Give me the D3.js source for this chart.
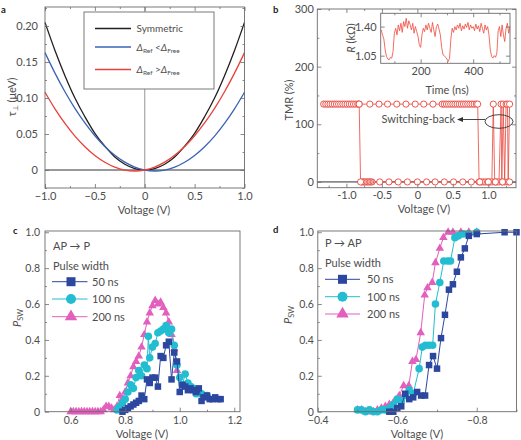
<!DOCTYPE html>
<html><head><meta charset="utf-8">
<script src="https://cdn.jsdelivr.net/npm/d3@7"></script>
<style>
body{margin:0;background:#fff}
svg{font-family:Lato,"Open Sans",sans-serif}
</style></head><body>
<svg id="fig" width="521" height="440"></svg>
<script>
// ---------- DATA ----------
// panel a : spin-transfer torque curves
const aVolt = [-1.0,-0.9,-0.8,-0.7,-0.6,-0.5,-0.4,-0.3,-0.2,-0.1,0,0.1,0.2,0.3,0.4,0.5,0.6,0.7,0.8,0.9,1.0];
const aSym  = [0.205,0.166,0.131,0.100,0.074,0.051,0.033,0.018,0.008,0.002,0,0.002,0.008,0.018,0.033,0.051,0.074,0.100,0.131,0.166,0.205];
const aBlue = [0.163,0.1345,0.1087,0.0856,0.0653,0.0476,0.0327,0.0204,0.0109,0.0041,0,-0.0014,-0.0001,0.0039,0.0107,0.0201,0.0323,0.0471,0.0647,0.085,0.108];
const aRed  = [0.108,0.085,0.0647,0.0471,0.0323,0.0201,0.0107,0.0039,-0.0001,-0.0014,0,0.0041,0.0109,0.0204,0.0327,0.0476,0.0653,0.0856,0.1087,0.1345,0.163];
const aXTicks = [-1,-0.5,0,0.5,1], aYTicks = [0,0.05,0.10,0.15,0.20];
const aLegend = ["Symmetric","ref<free","ref>free"];

// panel b : TMR loop
const bUpV = [-1.32,-1.29,-1.26,-1.23,-1.20,-1.17,-1.14,-1.11,-1.08,-1.05,-1.02,-0.99,-0.96,-0.93,-0.90,-0.87,-0.84,-0.82,
  -0.67,-0.54,-0.42,-0.29,-0.16,-0.03,0.09,0.22,0.35,
  0.38,0.41,0.44,0.47,0.50,0.53,0.56,0.59,0.62,0.65,0.68,0.71,0.74,0.77,0.80,0.83,0.85,
  0.87,0.90,0.93,0.96,0.99,1.02,1.05,1.07,1.09,1.12,1.15,1.18,1.19,1.21,1.23,1.25,1.27,1.28,1.30];
const bUpT = [135,135,135,135,135,135,135,135,135,135,135,135,135,135,135,135,135,135,
  135,135,135,135,135,135,135,135,135,
  135,135,135,135,135,135,135,135,135,135,135,135,135,135,135,135,135,
  0,0,0,0,0,0,0,135,0,0,0,135,0,135,0,135,135,0,135];
const bDnV = [1.30,1.20,1.10,1.00,0.88,0.76,0.64,0.51,0.38,0.25,0.13,0.00,-0.14,-0.27,-0.40,-0.53,
  -0.64,-0.66,-0.68,-0.70,-0.72,-0.74,-0.76,-0.78,-0.80,-0.82];
const bDnT = [0,0,0,0,0,0,0,0,0,0,0,0,0,0,0,0,0,0,0,0,0,0,0,0,0,135];
const bXTicks = [-1,-0.5,0,0.5,1], bYTicks = [0,100,200,300];
// inset : resistance vs time
const inT = d3.range(50,541,5);
const inR = [1.36,1.30,1.25,1.12,1.04,1.01,1.00,1.03,1.02,1.10,1.32,1.38,1.30,1.42,1.35,1.44,1.33,1.46,1.40,1.50,
  1.38,1.47,1.42,1.36,1.44,1.32,1.40,1.34,1.28,1.18,1.15,1.30,1.38,1.34,1.42,1.36,1.44,1.38,1.33,1.45,
  1.36,1.28,1.40,1.43,1.37,1.30,1.15,1.06,1.05,1.03,1.01,0.98,1.02,1.25,1.38,1.33,1.40,1.36,1.42,1.38,
  1.44,1.35,1.41,1.37,1.43,1.39,1.45,1.36,1.42,1.38,1.40,1.35,1.43,1.37,1.41,1.34,1.44,1.38,1.32,1.42,
  1.36,1.40,1.30,1.12,1.04,1.02,1.05,1.03,1.08,1.35,1.40,1.28,1.42,1.30,1.22,1.38,1.44,1.32,1.40];
const inXTicks = [200,400], inYTicks = [1.05,1.40];

// panel c : AP -> P switching probability
const c50V  = [0.79,0.80,0.81,0.82,0.83,0.84,0.85,0.86,0.87,0.88,0.89,0.90,0.91,0.92,0.93,0.94,0.95,0.96,0.97,0.98,0.99,1.00,1.01,1.02,1.03,1.04,1.05,1.06,1.07,1.08,1.09,1.10,1.11,1.12,1.13,1.14,1.15];
const c50P  = [0.00,0.01,0.02,0.03,0.04,0.05,0.06,0.09,0.07,0.18,0.16,0.19,0.19,0.14,0.31,0.30,0.37,0.39,0.18,0.33,0.28,0.11,0.15,0.14,0.12,0.13,0.12,0.11,0.13,0.06,0.08,0.09,0.07,0.07,0.08,0.07,0.07];
const c100V = [0.77,0.78,0.79,0.80,0.81,0.82,0.83,0.84,0.85,0.86,0.87,0.88,0.885,0.89,0.90,0.91,0.92,0.93,0.94,0.95,0.96,0.97,0.98,0.99,1.00,1.01,1.02,1.03,1.04,1.05,1.06,1.07,1.08,1.09,1.10];
const c100P = [0.01,0.03,0.05,0.07,0.11,0.15,0.13,0.19,0.23,0.20,0.26,0.24,0.42,0.30,0.36,0.38,0.44,0.45,0.46,0.48,0.44,0.46,0.37,0.26,0.19,0.15,0.21,0.16,0.14,0.13,0.10,0.11,0.10,0.09,0.09];
const c200V = [0.60,0.61,0.62,0.63,0.64,0.65,0.66,0.67,0.68,0.69,0.70,0.71,0.72,0.73,0.74,0.75,0.76,0.77,0.78,0.79,0.80,0.81,0.82,0.83,0.84,0.85,0.86,0.87,0.88,0.89,0.90,0.91,0.92,0.93,0.94,0.95,0.96,0.97,0.98,0.99];
const c200P = [0,0,0,0,0,0,0,0,0,0,0,0,0.01,0.03,0.03,0.02,0.01,0.03,0.09,0.07,0.11,0.16,0.20,0.25,0.28,0.31,0.36,0.43,0.50,0.55,0.59,0.62,0.60,0.61,0.58,0.55,0.50,0.43,0.35,0.23];
const cXTicks = [0.6,0.8,1.0,1.2], cYTicks = [0,0.2,0.4,0.6,0.8,1.0];

// panel d : P -> AP switching probability
const d50V  = [-0.58,-0.59,-0.60,-0.61,-0.62,-0.63,-0.64,-0.65,-0.66,-0.67,-0.68,-0.69,-0.70,-0.71,-0.72,-0.73,-0.74,-0.75,-0.76,-0.77,-0.78,-0.80,-0.87,-0.90];
const d50P  = [0.00,0.00,0.02,0.03,0.10,0.07,0.08,0.11,0.09,0.09,0.26,0.31,0.24,0.41,0.54,0.68,0.71,0.78,0.86,0.91,0.98,0.99,1.0,1.0];
const d100V = [-0.50,-0.51,-0.52,-0.53,-0.54,-0.55,-0.56,-0.57,-0.58,-0.59,-0.60,-0.61,-0.62,-0.63,-0.64,-0.655,-0.663,-0.671,-0.68,-0.689,-0.696,-0.707,-0.717,-0.727,-0.734,-0.745,-0.754,-0.766,-0.779,-0.80];
const d100P = [0.01,0.01,0.00,0.01,0.00,0.00,0.01,0.01,0.02,0.04,0.07,0.06,0.09,0.12,0.10,0.24,0.36,0.37,0.37,0.37,0.60,0.72,0.84,0.84,0.84,0.97,0.98,0.99,0.99,1.00];
const d200V = [-0.50,-0.51,-0.52,-0.53,-0.54,-0.55,-0.56,-0.57,-0.58,-0.59,-0.60,-0.605,-0.616,-0.629,-0.638,-0.647,-0.659,-0.669,-0.676,-0.688,-0.696,-0.707,-0.716,-0.728,-0.74,-0.76,-0.78,-0.80];
const d200P = [0.01,0.01,0.00,0.00,0.00,0.01,0.02,0.03,0.04,0.05,0.06,0.09,0.145,0.145,0.28,0.29,0.44,0.65,0.69,0.72,0.83,0.91,0.97,1.0,1.0,1.0,1.0,1.0];
const dXTicks = [-0.4,-0.6,-0.8], dYTicks = [0,0.2,0.4,0.6,0.8,1.0];
const pulseLabels = ["50 ns","100 ns","200 ns"];

// ---------- STYLE ----------
const frameCol = "#6b6b6b", textCol = "#4d4d4d", FS = 11;
const cBlack = "#231f20", cBlue = "#3b63b3", cRed = "#e8413a";
const c50 = "#2b479f", c100 = "#22bdd1", c200 = "#e35fbd", tmrRed = "#e8453c";

const svg = d3.select("#fig");
const zip = (xs, ys) => xs.map((v,i)=>[v, ys[i]]);

function axes(g, x, y, o) {
  const xr = x.range(), yr = y.range();
  const L = Math.min(...xr), R = Math.max(...xr), B = yr[0], T = yr[1];
  const mk = (axis, tr, vals, size, fmt, pad) => {
    const a = g.append("g").attr("transform", tr)
      .call(axis.tickValues(vals).tickSize(size).tickPadding(pad).tickFormat(fmt));
    a.attr("font-family", null).attr("font-size", null);
    a.select(".domain").remove();
    a.selectAll("line").attr("stroke", frameCol).attr("stroke-width", 0.8);
    a.selectAll("text").attr("fill", textCol).style("font-size", (o.fs||FS)+"px");
    return a;
  };
  const none = () => "";
  mk(d3.axisBottom(x), `translate(0,${B})`, o.xMajor, -4, o.xFmt, o.xPad||4);
  mk(d3.axisBottom(x), `translate(0,${B})`, o.xMinor, -2, none, 0);
  mk(d3.axisLeft(y), `translate(${L},0)`, o.yMajor, -4, o.yFmt, o.yPad||5);
  mk(d3.axisLeft(y), `translate(${L},0)`, o.yMinor, -2, none, 0);
  if (o.mirror !== false) {
    mk(d3.axisTop(x), `translate(0,${T})`, o.xMajor, -4, none, 0);
    mk(d3.axisTop(x), `translate(0,${T})`, o.xMinor, -2, none, 0);
    mk(d3.axisRight(y), `translate(${R},0)`, o.yMajor, -4, none, 0);
    mk(d3.axisRight(y), `translate(${R},0)`, o.yMinor, -2, none, 0);
  }
  g.append("rect").attr("x", L).attr("y", T).attr("width", R-L).attr("height", B-T)
    .attr("fill", "none").attr("stroke", frameCol).attr("stroke-width", 0.9);
}
function ylabel(g, cx, cy, build) {
  const t = g.append("text").attr("transform", `translate(${cx},${cy}) rotate(-90)`)
    .attr("text-anchor", "middle").attr("dy", "0.35em").attr("fill", textCol).style("font-size", FS+"px");
  build(t);
}
function xlabel(g, cx, by, s) {
  g.append("text").attr("x", cx).attr("y", by).attr("text-anchor", "middle")
    .attr("fill", textCol).style("font-size", FS+"px").text(s);
}
function letter(s, x, y) {
  svg.append("text").attr("x", x).attr("y", y).attr("font-weight", "bold")
    .style("font-size", "9.5px").attr("fill", "#222").text(s);
}
const minusFmt = d => d === 0 ? "0" : (d < 0 ? "\u2212" : "") + Math.abs(d).toFixed(1);

// ---------- PANEL A ----------
{
  const g = svg.append("g");
  const x = d3.scaleLinear([-1, 1], [45, 244.5]);
  const y = d3.scaleLinear([-0.025, 0.2264], [188, 7]);
  g.append("line").attr("x1", x(0)).attr("x2", x(0)).attr("y1", y.range()[1]).attr("y2", y.range()[0])
    .attr("stroke", "#8a8a8a").attr("stroke-width", 0.9);
  g.append("line").attr("x1", 45).attr("x2", 244.5).attr("y1", y(0)).attr("y2", y(0))
    .attr("stroke", "#333").attr("stroke-width", 1);
  const line = d3.line().x(d=>x(d[0])).y(d=>y(d[1])).curve(d3.curveCatmullRom);
  [[aSym,cBlack],[aBlue,cBlue],[aRed,cRed]].forEach(([ys,c]) =>
    g.append("path").attr("d", line(zip(aVolt, ys))).attr("fill","none").attr("stroke", c).attr("stroke-width", 1.3));
  axes(g, x, y, {xMajor:aXTicks, xMinor:[-0.75,-0.25,0.25,0.75], yMajor:aYTicks,
    yMinor:[-0.025,0.025,0.075,0.125,0.175,0.225], xFmt:minusFmt,
    yFmt:d => d===0 ? "0" : d.toFixed(2), yPad:7, xPad:4});
  // legend
  g.append("rect").attr("x", 84).attr("y", 12).attr("width", 130).attr("height", 77)
    .attr("fill", "#fff").attr("stroke", frameCol).attr("stroke-width", 0.9);
  const rows = [28.5, 47, 69.5], cols = [cBlack, cBlue, cRed];
  rows.forEach((ry, i) => {
    g.append("line").attr("x1", 95).attr("x2", 131).attr("y1", ry).attr("y2", ry)
      .attr("stroke", cols[i]).attr("stroke-width", 1.3);
    const t = g.append("text").attr("x", 136.5).attr("y", ry + 3.8).attr("fill", textCol).style("font-size", "10px");
    if (i === 0) t.text(aLegend[0]);
    else {
      t.append("tspan").attr("font-style", "italic").text("\u0394");
      t.append("tspan").style("font-size", "6.5px").attr("dy", 2).text("Ref");
      t.append("tspan").attr("dy", -2).text(i === 1 ? " <" : " >");
      t.append("tspan").attr("font-style", "italic").text("\u0394");
      t.append("tspan").style("font-size", "6.5px").attr("dy", 2).text("Free");
    }
  });
  ylabel(g, 12, 97, t => {
    t.append("tspan").text("\u03c4");
    t.append("tspan").style("font-size","7px").attr("dy", 2).text("\u22a5");
    t.append("tspan").attr("dy", -2).text(" (\u03bceV)");
  });
  xlabel(g, 144, 214, "Voltage (V)");
}

// ---------- PANEL B ----------
{
  const g = svg.append("g");
  const x = d3.scaleLinear([-1.41, 1.39], [317.3, 516]);
  const y = d3.scaleLinear([-10, 300], [187.7, 9]);
  g.append("line").attr("x1", 317.3).attr("x2", 516).attr("y1", y(0)).attr("y2", y(0))
    .attr("stroke", "#333").attr("stroke-width", 1);
  const line = d3.line().x(d=>x(d[0])).y(d=>y(d[1]));
  const up = zip(bUpV, bUpT), dn = zip(bDnV, bDnT);
  [up, dn].forEach(pts => g.append("path").attr("d", line(pts)).attr("fill","none")
    .attr("stroke", tmrRed).attr("stroke-width", 0.8));
  [up, dn].forEach(pts => g.append("g").selectAll("circle").data(pts).join("circle")
    .attr("cx", d=>x(d[0])).attr("cy", d=>y(d[1])).attr("r", 3.1)
    .attr("fill", "#fff").attr("stroke", tmrRed).attr("stroke-width", 0.9));
  axes(g, x, y, {xMajor:bXTicks, xMinor:[-1.25,-0.75,-0.25,0.25,0.75,1.25], yMajor:bYTicks,
    yMinor:[50,150,250], xFmt:d => d===0 ? "0" : d.toFixed(1), yFmt:d3.format("d"), yPad:3.5, xPad:4});
  // annotation
  g.append("ellipse").attr("cx", 499).attr("cy", 121.5).attr("rx", 14).attr("ry", 6.8)
    .attr("fill", "none").attr("stroke", "#333").attr("stroke-width", 0.9);
  g.append("line").attr("x1", 485).attr("x2", 462).attr("y1", 119.5).attr("y2", 119.5)
    .attr("stroke", "#333").attr("stroke-width", 0.9);
  g.append("path").attr("d", "M457,119.5 L463,117 L463,122 Z").attr("fill", "#333");
  g.append("text").attr("x", 455).attr("y", 123).attr("text-anchor", "end")
    .attr("fill", textCol).style("font-size", FS+"px").text("Switching-back");
  ylabel(g, 289.5, 100, t => t.text("TMR (%)"));
  xlabel(g, 424, 213, "Voltage (V)");

  // inset
  const xi = d3.scaleLinear([48, 540], [380.7, 510]);
  const yi = d3.scaleLinear([0.958, 1.56], [63.3, 13.3]);
  g.append("rect").attr("x", 380.7).attr("y", 13.3).attr("width", 129.3).attr("height", 50).attr("fill", "#fff");
  g.append("path").attr("d", d3.line().x(d=>xi(d[0])).y(d=>yi(d[1]))(zip(inT, inR)))
    .attr("fill", "none").attr("stroke", "#f0493b").attr("stroke-width", 0.8);
  axes(g, xi, yi, {xMajor:inXTicks, xMinor:[100,300,500], yMajor:inYTicks, yMinor:[],
    xFmt:d3.format("d"), yFmt:d=>d.toFixed(2), yPad:4, xPad:4});
  g.append("text").attr("x", 447).attr("y", 94).attr("text-anchor","middle").attr("fill", textCol)
    .style("font-size", FS+"px").text("Time (ns)");
  ylabel(g, 351, 38, t => {
    t.append("tspan").attr("font-style","italic").text("R");
    t.append("tspan").text(" (k\u03a9)");
  });
}

// ---------- markers ----------
const sq = s => d3.symbol(d3.symbolSquare, s*s)();
const ci = r => d3.symbol(d3.symbolCircle, Math.PI*r*r)();
const tri = s => d3.symbol(d3.symbolTriangle, Math.sqrt(3)/4*s*s)();

function series(g, x, y, xs, ys, col, path) {
  const pts = zip(xs, ys);
  g.append("path").attr("d", d3.line().x(d=>x(d[0])).y(d=>y(d[1]))(pts))
    .attr("fill","none").attr("stroke", col).attr("stroke-width", 1);
  g.append("g").selectAll("path").data(pts).join("path")
    .attr("transform", d=>`translate(${x(d[0])},${y(d[1])})`).attr("d", path).attr("fill", col);
}
function pulseLegend(g, x0, x1, mx, tx, rows, cols, shapes) {
  rows.forEach((ry, i) => {
    g.append("line").attr("x1", x0).attr("x2", x1).attr("y1", ry).attr("y2", ry).attr("stroke", cols[i]).attr("stroke-width", 1);
    g.append("path").attr("transform", `translate(${mx},${ry})`).attr("d", shapes[i]).attr("fill", cols[i]);
    g.append("text").attr("x", tx).attr("y", ry + 3.8).attr("fill", textCol).style("font-size", FS+"px").text(pulseLabels[i]);
  });
}
function psw(t){ t.append("tspan").attr("font-style","italic").text("P");
  t.append("tspan").style("font-size","7.5px").attr("dy", 2).text("SW"); }

// ---------- PANEL C ----------
{
  const g = svg.append("g");
  const x = d3.scaleLinear([0.506, 1.221], [45, 240]);
  const y = d3.scaleLinear([0, 1.007], [411.7, 231]);
  series(g, x, y, c200V, c200P, c200, tri(8.5));
  series(g, x, y, c100V, c100P, c100, ci(3.8));
  series(g, x, y, c50V, c50P, c50, sq(6.5));
  axes(g, x, y, {xMajor:cXTicks, xMinor:[0.7,0.9,1.1], yMajor:cYTicks, yMinor:[0.1,0.3,0.5,0.7,0.9],
    xFmt:d=>d.toFixed(1), yFmt:d=>d===0?"0":d.toFixed(1), yPad:5, xPad:4.5, mirror:false, fs:10.5});
  g.append("text").attr("x", 53).attr("y", 249.5).attr("fill", textCol).style("font-size", FS+"px").text("AP \u2192 P");
  g.append("text").attr("x", 53).attr("y", 269.5).attr("fill", textCol).style("font-size", FS+"px").text("Pulse width");
  pulseLegend(g, 52, 87.5, 71, 92, [281.7, 299, 316.7], [c50, c100, c200], [sq(9), ci(5), tri(12.5)]);
  ylabel(g, 17, 318, psw);
  xlabel(g, 142, 438, "Voltage (V)");
}

// ---------- PANEL D ----------
{
  const g = svg.append("g");
  const x = d3.scaleLinear([-0.4, -0.9], [317.8, 516.5]);
  const y = d3.scaleLinear([0, 1.007], [411.7, 231]);
  series(g, x, y, d200V, d200P, c200, tri(8.5));
  series(g, x, y, d100V, d100P, c100, ci(3.8));
  series(g, x, y, d50V, d50P, c50, sq(6.5));
  axes(g, x, y, {xMajor:dXTicks, xMinor:[-0.5,-0.7,-0.9], yMajor:dYTicks, yMinor:[0.1,0.3,0.5,0.7,0.9],
    xFmt:minusFmt, yFmt:d=>d===0?"0":d.toFixed(1), yPad:4, xPad:4.5, mirror:false, fs:10.5});
  g.append("text").attr("x", 325).attr("y", 247).attr("fill", textCol).style("font-size", FS+"px").text("P \u2192 AP");
  g.append("text").attr("x", 325).attr("y", 266.5).attr("fill", textCol).style("font-size", FS+"px").text("Pulse width");
  pulseLegend(g, 325, 360, 342.5, 367, [279.3, 296.7, 314], [c50, c100, c200], [sq(9), ci(5), tri(12.5)]);
  ylabel(g, 288, 315, psw);
  xlabel(g, 417, 438, "Voltage (V)");
}

letter("a", 1, 13);
letter("b", 273, 13);
letter("c", 13, 234);
letter("d", 273, 233);
</script></body></html>
